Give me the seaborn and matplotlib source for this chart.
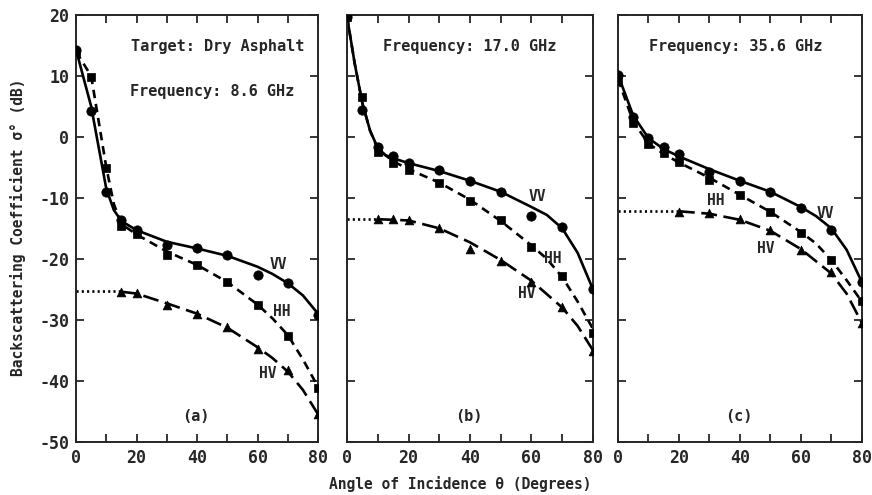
import matplotlib
matplotlib.use("Agg")
import matplotlib.pyplot as plt
import seaborn as sns

sns.set_style("ticks")
plt.rcParams['font.family'] = ['DejaVu Sans Mono', 'DejaVu Sans']

# ---------------- measured points ----------------
# Panel (a) 8.6 GHz
a_vv_x = [0, 5, 10, 15, 20, 30, 40, 50, 60, 70, 80]
a_vv_y = [14.3, 4.3, -9.0, -13.6, -15.2, -17.8, -18.2, -19.4, -22.6, -24.0, -29.2]
a_hh_x = [0, 5, 10, 15, 20, 30, 40, 50, 60, 70, 80]
a_hh_y = [14.0, 9.8, -5.1, -14.6, -16.0, -19.4, -21.0, -23.8, -27.6, -32.6, -41.2]
a_hv_x = [15, 20, 30, 40, 50, 60, 70, 80]
a_hv_y = [-25.5, -25.6, -27.5, -29.0, -31.2, -34.8, -38.3, -45.5]

# Panel (b) 17.0 GHz
b_vv_x = [0, 5, 10, 15, 20, 30, 40, 50, 60, 70, 80]
b_vv_y = [19.7, 4.4, -1.7, -3.2, -4.3, -5.5, -7.3, -9.0, -13.0, -14.7, -25.0]
b_hh_x = [0, 5, 10, 15, 20, 30, 40, 50, 60, 70, 80]
b_hh_y = [19.6, 6.6, -2.5, -4.3, -5.4, -7.5, -10.5, -13.6, -18.1, -22.9, -32.1]
b_hv_x = [10, 15, 20, 30, 40, 50, 60, 70, 80]
b_hv_y = [-13.5, -13.5, -13.6, -15.0, -18.4, -20.3, -23.8, -27.9, -35.2]

# Panel (c) 35.6 GHz
c_vv_x = [0, 5, 10, 15, 20, 30, 40, 50, 60, 70, 80]
c_vv_y = [10.2, 3.2, -0.2, -1.6, -2.8, -5.8, -7.3, -9.0, -11.6, -15.2, -23.8]
c_hh_x = [0, 5, 10, 15, 20, 30, 40, 50, 60, 70, 80]
c_hh_y = [9.2, 2.2, -1.1, -2.7, -4.1, -7.1, -9.5, -12.3, -15.7, -20.2, -27.0]
c_hv_x = [20, 30, 40, 50, 60, 70, 80]
c_hv_y = [-12.3, -12.5, -13.4, -15.3, -18.6, -22.1, -30.5]

# ---------------- fitted curves ----------------
a_vv_cx = [0, 5, 10, 12.5, 15, 20, 30, 40, 50, 60, 65, 70, 75, 80]
a_vv_cy = [14.3, 5.0, -8.5, -12.0, -13.8, -15.3, -17.2, -18.3, -19.5, -21.3, -22.5, -24.0, -26.0, -29.0]
a_hh_cx = [0, 5, 10, 12.5, 15, 20, 30, 40, 50, 60, 65, 70, 75, 80]
a_hh_cy = [14.0, 10.0, -5.0, -11.0, -14.3, -16.0, -18.8, -21.0, -23.8, -27.5, -29.8, -32.5, -36.5, -41.0]
a_hv_dx = [0, 15]
a_hv_dy = [-25.3, -25.3]
a_hv_cx = [15, 20, 30, 40, 50, 60, 65, 70, 75, 80]
a_hv_cy = [-25.4, -25.7, -27.3, -29.0, -31.3, -34.5, -36.3, -38.5, -41.5, -45.5]

b_vv_cx = [0, 2.5, 5, 7.5, 10, 12.5, 15, 20, 30, 40, 50, 60, 65, 70, 75, 80]
b_vv_cy = [19.7, 12.0, 5.5, 1.0, -1.8, -3.0, -3.5, -4.3, -5.6, -7.2, -9.0, -11.5, -12.8, -15.0, -19.0, -25.0]
b_hh_cx = [0, 2.5, 5, 7.5, 10, 15, 20, 30, 40, 50, 60, 65, 70, 75, 80]
b_hh_cy = [19.7, 12.0, 5.5, 1.0, -2.0, -4.0, -5.3, -7.5, -10.3, -13.8, -17.8, -20.0, -23.0, -27.0, -31.5]
b_hv_dx = [0, 10]
b_hv_dy = [-13.5, -13.5]
b_hv_cx = [10, 20, 30, 40, 50, 60, 70, 75, 80]
b_hv_cy = [-13.5, -13.7, -15.0, -17.3, -20.2, -23.6, -28.0, -31.0, -35.0]

c_vv_cx = [0, 5, 10, 15, 20, 30, 40, 50, 60, 65, 70, 75, 80]
c_vv_cy = [10.2, 3.5, -0.2, -2.0, -3.2, -5.3, -7.2, -9.0, -11.5, -13.0, -15.0, -18.5, -23.8]
c_hh_cx = [0, 5, 10, 15, 20, 30, 40, 50, 60, 65, 70, 75, 80]
c_hh_cy = [9.5, 2.5, -1.1, -2.8, -4.2, -6.7, -9.5, -12.3, -15.6, -17.5, -20.2, -23.5, -27.0]
c_hv_dx = [0, 20]
c_hv_dy = [-12.2, -12.2]
c_hv_cx = [20, 30, 40, 50, 60, 70, 75, 80]
c_hv_cy = [-12.2, -12.6, -13.6, -15.4, -18.4, -22.4, -25.7, -30.5]

panel_titles = [["Target: Dry Asphalt", "Frequency: 8.6 GHz"],
                ["Frequency: 17.0 GHz"],
                ["Frequency: 35.6 GHz"]]
panel_tags = ["(a)", "(b)", "(c)"]
x_ticks = [0, 20, 40, 60, 80]
y_ticks = [20, 10, 0, -10, -20, -30, -40, -50]

panels = [
    dict(vv=(a_vv_x, a_vv_y), hh=(a_hh_x, a_hh_y), hv=(a_hv_x, a_hv_y),
         vvc=(a_vv_cx, a_vv_cy), hhc=(a_hh_cx, a_hh_cy), hvd=(a_hv_dx, a_hv_dy), hvc=(a_hv_cx, a_hv_cy),
         lab=dict(VV=(67, -21.0), HH=(68, -28.7), HV=(63.5, -38.8))),
    dict(vv=(b_vv_x, b_vv_y), hh=(b_hh_x, b_hh_y), hv=(b_hv_x, b_hv_y),
         vvc=(b_vv_cx, b_vv_cy), hhc=(b_hh_cx, b_hh_cy), hvd=(b_hv_dx, b_hv_dy), hvc=(b_hv_cx, b_hv_cy),
         lab=dict(VV=(62, -9.8), HH=(67, -19.9), HV=(58.5, -25.7))),
    dict(vv=(c_vv_x, c_vv_y), hh=(c_hh_x, c_hh_y), hv=(c_hv_x, c_hv_y),
         vvc=(c_vv_cx, c_vv_cy), hhc=(c_hh_cx, c_hh_cy), hvd=(c_hv_dx, c_hv_dy), hvc=(c_hv_cx, c_hv_cy),
         lab=dict(VV=(68, -12.5), HH=(32, -10.4), HV=(48.5, -18.3))),
]

fig = plt.figure(figsize=(8.72, 4.95), dpi=100)
rects = [[0.0872, 0.1077, 0.2775, 0.862],
         [0.398, 0.1077, 0.282, 0.862],
         [0.7087, 0.1077, 0.2796, 0.862]]

for i, (p, r) in enumerate(zip(panels, rects)):
    ax = fig.add_axes(r)
    sns.lineplot(x=p['vvc'][0], y=p['vvc'][1], ax=ax, color='k', lw=1.9, linestyle='-')
    sns.lineplot(x=p['hhc'][0], y=p['hhc'][1], ax=ax, color='k', lw=1.9, linestyle=(0, (3.2, 2.2)))
    sns.lineplot(x=p['hvd'][0], y=p['hvd'][1], ax=ax, color='k', lw=1.9, linestyle=(0, (0.8, 1.2)))
    sns.lineplot(x=p['hvc'][0], y=p['hvc'][1], ax=ax, color='k', lw=1.9, linestyle=(0, (6, 2.5)))
    sns.scatterplot(x=p['vv'][0], y=p['vv'][1], ax=ax, marker='o', color='k', s=45, edgecolor='k', zorder=5)
    sns.scatterplot(x=p['hh'][0], y=p['hh'][1], ax=ax, marker='s', color='k', s=40, edgecolor='k', zorder=5)
    sns.scatterplot(x=p['hv'][0], y=p['hv'][1], ax=ax, marker='^', color='k', s=40, edgecolor='k', zorder=5)

    ax.set_xlim(0, 80)
    ax.set_ylim(-50, 20)
    ax.set_xticks(x_ticks)
    ax.set_xticks(range(0, 81, 10), minor=True)
    ax.set_yticks(y_ticks)
    ax.tick_params(axis='both', which='both', direction='in', top=True, right=True,
                   width=1.3, labelsize=12, pad=5)
    ax.tick_params(which='major', length=6)
    ax.tick_params(which='minor', length=6)
    if i > 0:
        ax.set_yticklabels([])
    else:
        ax.set_yticklabels([str(v) for v in y_ticks])
    for lbl in ax.get_xticklabels() + ax.get_yticklabels():
        lbl.set_fontweight('bold')
    for s in ax.spines.values():
        s.set_linewidth(1.4)
    ax.set_xlabel('')
    ax.set_ylabel('')

    # texts
    if i == 0:
        ax.text(46.7, 14.8, panel_titles[0][0], ha='center', va='center', fontsize=11, fontweight='bold')
        ax.text(45, 7.4, panel_titles[0][1], ha='center', va='center', fontsize=11, fontweight='bold')
    else:
        ax.text(40 if i == 1 else 38.5, 14.8, panel_titles[i][0], ha='center', va='center',
                fontsize=11, fontweight='bold')
    ax.text(39.5, -45.9, panel_tags[i], ha='center', va='center', fontsize=11, fontweight='bold')
    for k, (tx, ty) in p['lab'].items():
        ax.text(tx, ty, k, ha='center', va='center', fontsize=10.5, fontweight='bold')

fig.text(0.021, 0.54, 'Backscattering Coefficient σ° (dB)', rotation=90,
         ha='center', va='center', fontsize=10.5, fontweight='bold')
fig.text(0.528, 0.022, 'Angle of Incidence θ (Degrees)', ha='center', va='center',
         fontsize=10.5, fontweight='bold')

fig.savefig('out.png', dpi=100)
